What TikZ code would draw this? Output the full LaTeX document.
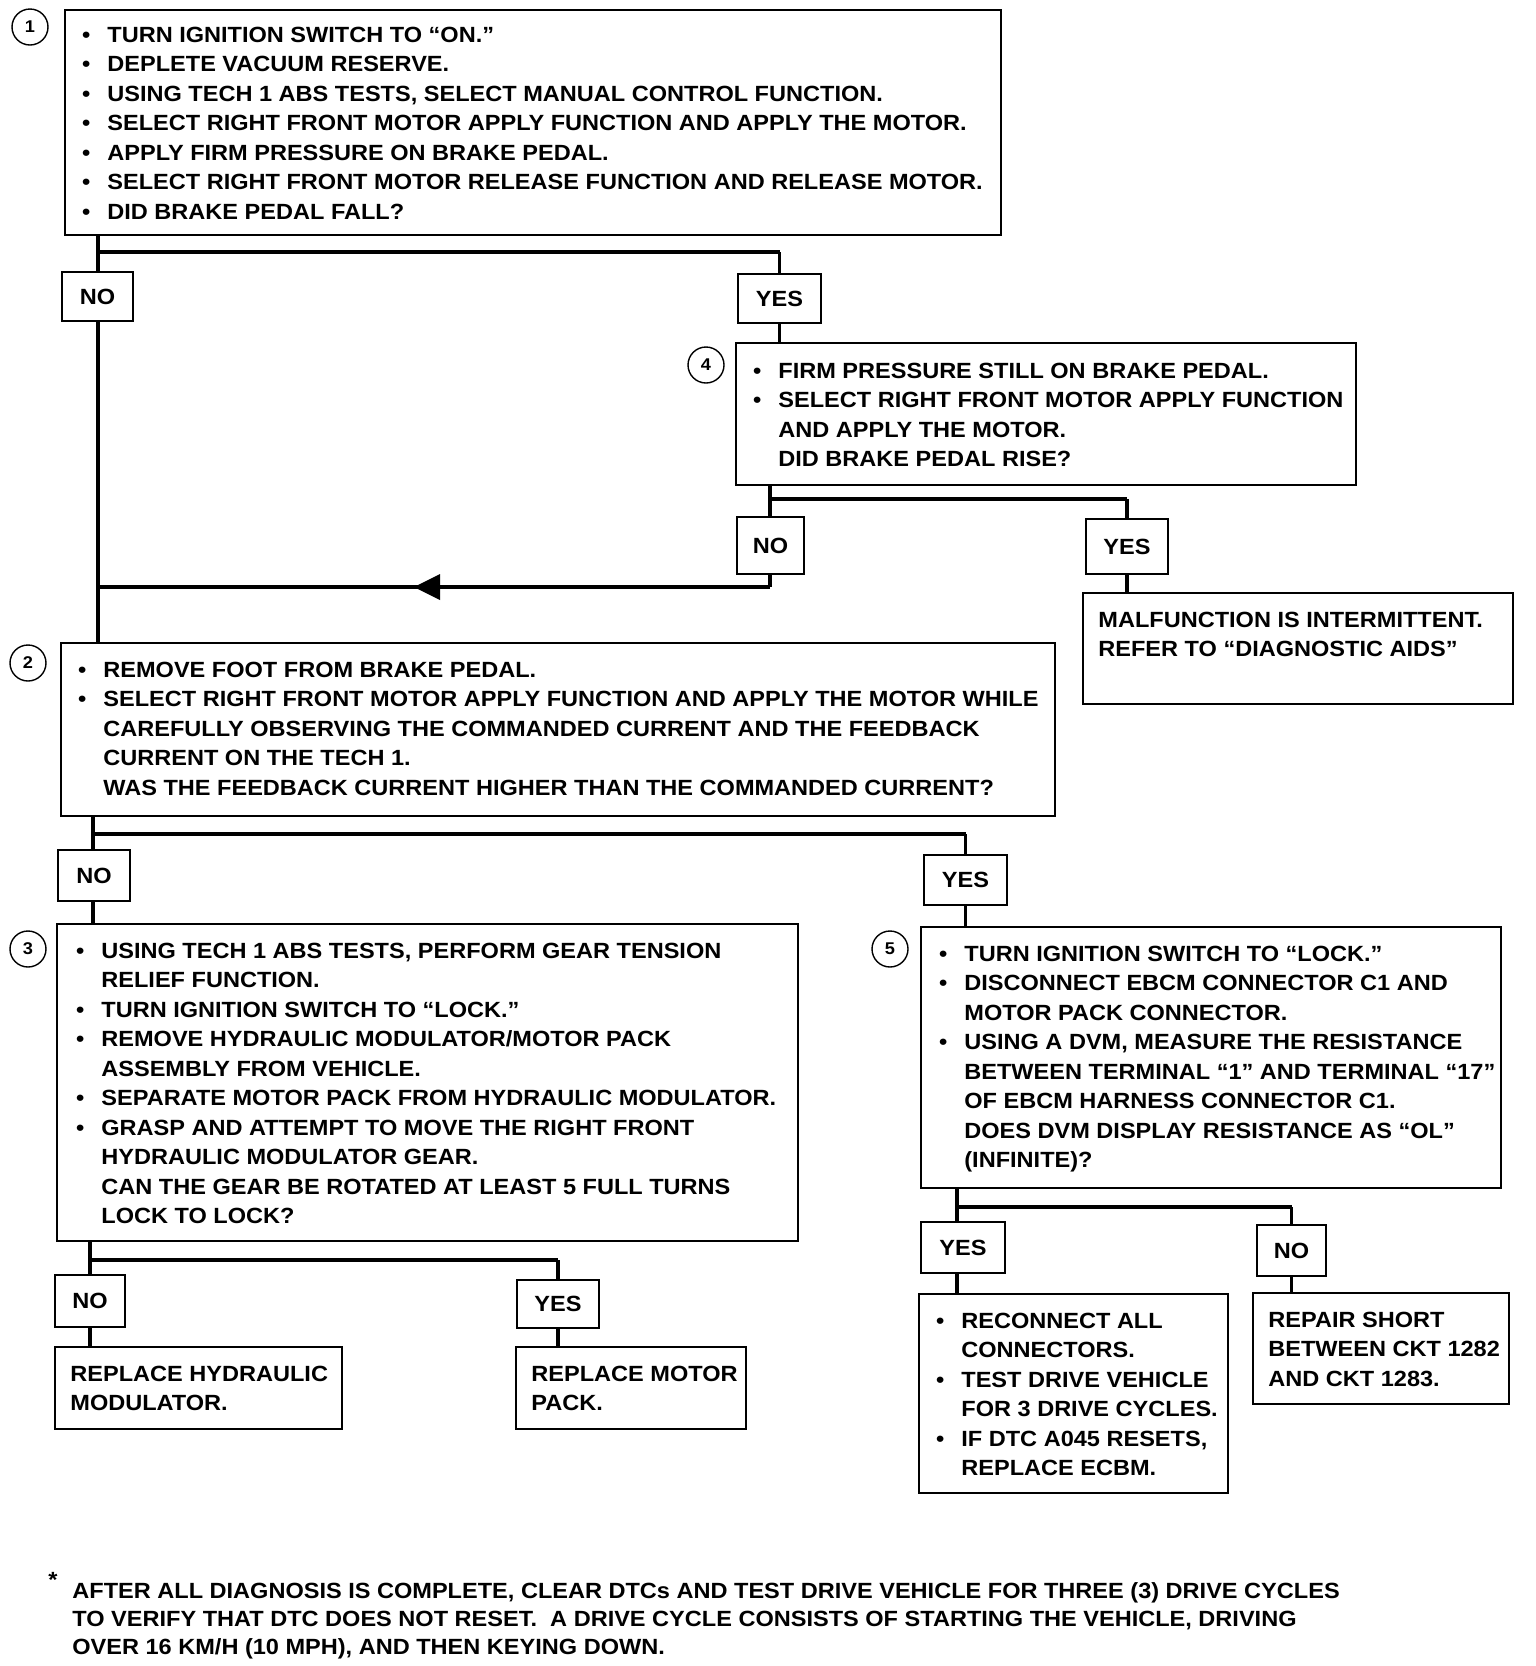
\documentclass[tikz,border=0pt]{standalone}
\usepackage{fontspec}
\newfontfamily\df{Liberation Sans}[FakeStretch=1.07]
\usetikzlibrary{fit}
\newcommand\bul{\leavevmode\llap{•\hspace{8.5pt}}}
\begin{document}
\begin{tikzpicture}[x=0.5pt,y=-0.5pt,
  box/.style={draw, line width=1.1pt, inner sep=0pt},
  txt/.style={anchor=north west, inner sep=0pt, align=left, font={\df\bfseries\fontsize{11}{14.75}\selectfont}},
  lbl/.style={inner sep=0pt, font={\df\bfseries\fontsize{11}{13}\selectfont}},
  num/.style={circle, draw, line width=0.7pt, minimum size=18pt, inner sep=0pt, font={\df\bfseries\fontsize{8.5}{10}\selectfont}},
  conn/.style={line width=1.6pt},
  bar/.style={line width=2.4pt}]
\useasboundingbox (0,0) rectangle (1536,1666);
% ---------- boxes ----------
\node[box, fit={(65,10) (1001,235)}] (b1) {};
\node[box, fit={(62,272) (133,321)}] (no1) {};
\node[box, fit={(738,274) (821,323)}] (yes1) {};
\node[box, fit={(736,343) (1356,485)}] (b4) {};
\node[box, fit={(737,517) (804,574)}] (no4) {};
\node[box, fit={(1086,519) (1168,574)}] (yes4) {};
\node[box, fit={(1083,593) (1513,704)}] (mal) {};
\node[box, fit={(61,643) (1055,816)}] (b2) {};
\node[box, fit={(58,850) (130,901)}] (no2) {};
\node[box, fit={(924,855) (1007,905)}] (yes2) {};
\node[box, fit={(57,924) (798,1241)}] (b3) {};
\node[box, fit={(921,927) (1501,1188)}] (b5) {};
\node[box, fit={(55,1275) (125,1327)}] (no3) {};
\node[box, fit={(517,1280) (599,1328)}] (yes3) {};
\node[box, fit={(55,1347) (342,1429)}] (rh) {};
\node[box, fit={(516,1347) (746,1429)}] (rm) {};
\node[box, fit={(921,1222) (1005,1273)}] (yes5) {};
\node[box, fit={(1257,1225) (1326,1276)}] (no5) {};
\node[box, fit={(919,1294) (1228,1493)}] (rc) {};
\node[box, fit={(1253,1293) (1509,1404)}] (rp) {};
% ---------- labels ----------
\node[lbl] (lno1) at (no1.center) {NO};
\node[lbl] (lyes1) at (yes1.center) {YES};
\node[lbl] (lno4) at (no4.center) {NO};
\node[lbl] (lyes4) at (yes4.center) {YES};
\node[lbl] (lno2) at (no2.center) {NO};
\node[lbl] (lyes2) at (yes2.center) {YES};
\node[lbl] (lno3) at (no3.center) {NO};
\node[lbl] (lyes3) at (yes3.center) {YES};
\node[lbl] (lyes5) at (yes5.center) {YES};
\node[lbl] (lno5) at (no5.center) {NO};
% ---------- step numbers ----------
\node[num] (c1) at (30,27) {1};
\node[num] (c4) at (706,365) {4};
\node[num] (c2) at (28,663) {2};
\node[num] (c3) at (28,949) {3};
\node[num] (c5) at (890,949) {5};
% ---------- texts ----------
\node[txt] (t1) at (107,26.5) {\bul TURN IGNITION SWITCH TO “ON.”\\
\bul DEPLETE VACUUM RESERVE.\\
\bul USING TECH 1 ABS TESTS, SELECT MANUAL CONTROL FUNCTION.\\
\bul SELECT RIGHT FRONT MOTOR APPLY FUNCTION AND APPLY THE MOTOR.\\
\bul APPLY FIRM PRESSURE ON BRAKE PEDAL.\\
\bul SELECT RIGHT FRONT MOTOR RELEASE FUNCTION AND RELEASE MOTOR.\\
\bul DID BRAKE PEDAL FALL?};
\node[txt] (t4) at (778,362.5) {\bul FIRM PRESSURE STILL ON BRAKE PEDAL.\\
\bul SELECT RIGHT FRONT MOTOR APPLY FUNCTION\\
AND APPLY THE MOTOR.\\
DID BRAKE PEDAL RISE?};
\node[txt] (tmal) at (1098,611.5) {MALFUNCTION IS INTERMITTENT.\\
REFER TO “DIAGNOSTIC AIDS”};
\node[txt] (t2) at (103,661.5) {\bul REMOVE FOOT FROM BRAKE PEDAL.\\
\bul SELECT RIGHT FRONT MOTOR APPLY FUNCTION AND APPLY THE MOTOR WHILE\\
CAREFULLY OBSERVING THE COMMANDED CURRENT AND THE FEEDBACK\\
CURRENT ON THE TECH 1.\\
WAS THE FEEDBACK CURRENT HIGHER THAN THE COMMANDED CURRENT?};
\node[txt] (t3) at (101,942.5) {\bul USING TECH 1 ABS TESTS, PERFORM GEAR TENSION\\
RELIEF FUNCTION.\\
\bul TURN IGNITION SWITCH TO “LOCK.”\\
\bul REMOVE HYDRAULIC MODULATOR/MOTOR PACK\\
ASSEMBLY FROM VEHICLE.\\
\bul SEPARATE MOTOR PACK FROM HYDRAULIC MODULATOR.\\
\bul GRASP AND ATTEMPT TO MOVE THE RIGHT FRONT\\
HYDRAULIC MODULATOR GEAR.\\
CAN THE GEAR BE ROTATED AT LEAST 5 FULL TURNS\\
LOCK TO LOCK?};
\node[txt] (t5) at (964,945.5) {\bul TURN IGNITION SWITCH TO “LOCK.”\\
\bul DISCONNECT EBCM CONNECTOR C1 AND\\
MOTOR PACK CONNECTOR.\\
\bul USING A DVM, MEASURE THE RESISTANCE\\
BETWEEN TERMINAL “1” AND TERMINAL “17”\\
OF EBCM HARNESS CONNECTOR C1.\\
DOES DVM DISPLAY RESISTANCE AS “OL”\\
(INFINITE)?};
\node[txt] (trh) at (70,1365.5) {REPLACE HYDRAULIC\\MODULATOR.};
\node[txt] (trm) at (531,1365.5) {REPLACE MOTOR\\PACK.};
\node[txt] (trc) at (961,1312.5) {\bul RECONNECT ALL\\
CONNECTORS.\\
\bul TEST DRIVE VEHICLE\\
FOR 3 DRIVE CYCLES.\\
\bul IF DTC A045 RESETS,\\
REPLACE ECBM.};
\node[txt] (trp) at (1268,1311.5) {REPAIR SHORT\\BETWEEN CKT 1282\\AND CKT 1283.};
\node[lbl] (ast) at (53,1580) {*};
\node[txt, font={\df\bfseries\fontsize{11}{14}\selectfont}] (foot) at (72,1582.5) {AFTER ALL DIAGNOSIS IS COMPLETE, CLEAR DTCs AND TEST DRIVE VEHICLE FOR THREE (3) DRIVE CYCLES\\
TO VERIFY THAT DTC DOES NOT RESET.\ \ A DRIVE CYCLE CONSISTS OF STARTING THE VEHICLE, DRIVING\\
OVER 16 KM/H (10 MPH), AND THEN KEYING DOWN.};
% ---------- junctions ----------
\coordinate (j1) at (98,252);
\coordinate (j4) at (770,499);
\coordinate (ret) at (770,587);
\coordinate (j2) at (93,834);
\coordinate (j3) at (90,1260);
\coordinate (j5) at (957,1207);
\coordinate (arr) at (414,587);
% ---------- connectors ----------
% step 1
\draw[conn] (b1.south -| j1) -- (j1 |- no1.north);
\draw[bar] (j1) -- (j1 -| yes1.north);
\draw[conn] (j1 -| yes1.north) -- (yes1.north);
\draw[conn] (j1 |- no1.south) -- (j1 |- b2.north);
\draw[conn] (yes1.south) -- (yes1.south |- b4.north);
% step 4
\draw[conn] (b4.south -| j4) -- (j4 |- no4.north);
\draw[bar] (j4) -- (j4 -| yes4.north);
\draw[conn] (j4 -| yes4.north) -- (yes4.north);
\draw[conn] (j4 |- no4.south) -- (ret);
\draw[bar] (ret) -- (ret -| j1);
\fill (arr) -- ++(26,-13) -- ++(0,26) -- cycle;
\draw[conn] (yes4.south) -- (yes4.south |- mal.north);
% step 2
\draw[conn] (b2.south -| j2) -- (j2 |- no2.north);
\draw[bar] (j2) -- (j2 -| yes2.north);
\draw[conn] (j2 -| yes2.north) -- (yes2.north);
\draw[conn] (j2 |- no2.south) -- (j2 |- b3.north);
\draw[conn] (yes2.south) -- (yes2.south |- b5.north);
% step 3
\draw[conn] (b3.south -| j3) -- (j3 |- no3.north);
\draw[bar] (j3) -- (j3 -| yes3.north);
\draw[conn] (j3 -| yes3.north) -- (yes3.north);
\draw[conn] (j3 |- no3.south) -- (j3 |- rh.north);
\draw[conn] (yes3.south) -- (yes3.south |- rm.north);
% step 5
\draw[conn] (b5.south -| j5) -- (j5 |- yes5.north);
\draw[bar] (j5) -- (j5 -| no5.north);
\draw[conn] (j5 -| no5.north) -- (no5.north);
\draw[conn] (j5 |- yes5.south) -- (j5 |- rc.north);
\draw[conn] (no5.south) -- (no5.south |- rp.north);
\end{tikzpicture}
\end{document}
